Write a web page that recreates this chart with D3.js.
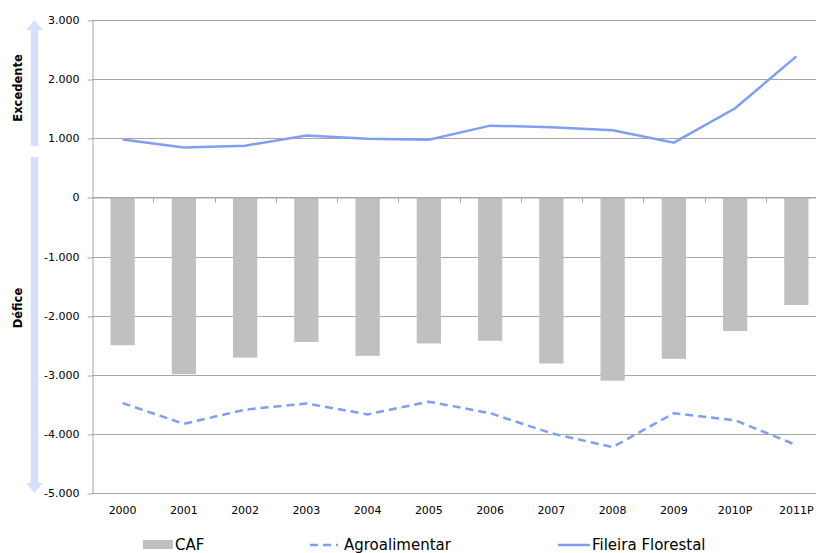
<!DOCTYPE html>
<html>
<head>
<meta charset="utf-8">
<script src="https://cdn.jsdelivr.net/npm/d3@7"></script>
<style>
  html, body { margin: 0; padding: 0; background: #fff; }
  svg { display: block; font-family: "DejaVu Sans", Verdana, sans-serif; }
</style>
</head>
<body>
<svg id="chart" width="816" height="553"></svg>
<script>
// Trade balance by year (values in thousand units)
const years = ["2000","2001","2002","2003","2004","2005","2006","2007","2008","2009","2010P","2011P"];
const caf = [-2500,-2990,-2710,-2445,-2680,-2470,-2425,-2810,-3100,-2730,-2260,-1820];
const agroalimentar = [-3480,-3830,-3590,-3485,-3670,-3455,-3650,-3990,-4225,-3650,-3770,-4190];
const fileiraFlorestal = [980,845,875,1047,990,975,1213,1186,1135,926,1508,2385];
const yTicks = [3000,2000,1000,0,-1000,-2000,-3000,-4000,-5000];

const svg = d3.select("#chart");
const plotLeft = 92, plotRight = 827, plotTop = 20, plotBottom = 493;

const x = d3.scaleBand().domain(years).range([plotLeft, plotRight]).paddingInner(37/61.25).paddingOuter(18.5/61.25);
const xb = d3.scaleBand().domain(years).range([plotLeft, plotRight]);
const y = d3.scaleLinear().domain([-5000, 3000]).range([plotBottom, plotTop]);

// Portuguese number style: dot as thousands separator, plain hyphen for negatives
const ptLocale = d3.formatLocale({ decimal: ",", thousands: ".", grouping: [3], currency: ["", ""], minus: "-" });
const fmt = ptLocale.format(",");
const lineColor = "#7f9ef5";
const gridColor = "#a6a6a6";
const fontFamily = "'DejaVu Sans', Verdana, sans-serif";

// horizontal gridlines
svg.append("g").selectAll("line").data(yTicks).join("line")
  .attr("x1", plotLeft).attr("x2", 816)
  .attr("y1", d => Math.round(y(d)) + 0.5).attr("y2", d => Math.round(y(d)) + 0.5)
  .attr("stroke", gridColor).attr("stroke-width", 1);

// value axis
const yAxis = svg.append("g").attr("transform", `translate(${plotLeft + 0.5},0)`)
  .call(d3.axisLeft(y).tickValues(yTicks).tickFormat(fmt).tickSize(5).tickSizeOuter(0));
yAxis.select(".domain").attr("stroke", gridColor);
yAxis.selectAll(".tick line").attr("stroke", gridColor)
  .attr("transform", function(d){ return `translate(0,${Math.round(y(d)) + 0.5 - y(d)})`; });
yAxis.selectAll(".tick text").attr("font-size", 11).attr("fill", "#000").attr("x", -13)
  .style("font-family", fontFamily);

// bars
svg.append("g").selectAll("rect").data(years).join("rect")
  .attr("x", (d) => x(d))
  .attr("width", x.bandwidth())
  .attr("y", (d, i) => y(Math.max(0, caf[i])))
  .attr("height", (d, i) => Math.abs(y(caf[i]) - y(0)))
  .attr("fill", "#c0c0c0");

// category axis along zero line with tick marks
const zeroY = Math.round(y(0)) + 0.5;
const xAxis = svg.append("g").attr("transform", `translate(0,${zeroY})`)
  .call(d3.axisBottom(xb).tickSize(0).tickFormat(""));
xAxis.select(".domain").attr("stroke", gridColor);
svg.append("g").selectAll("line").data(years.slice(1)).join("line")
  .attr("x1", d => Math.round(xb(d)) + 0.5).attr("x2", d => Math.round(xb(d)) + 0.5)
  .attr("y1", zeroY).attr("y2", zeroY + 5)
  .attr("stroke", gridColor);

// category labels at the bottom
svg.append("g").selectAll("text").data(years).join("text")
  .attr("x", d => xb(d) + xb.bandwidth() / 2)
  .attr("y", plotBottom + 21)
  .attr("text-anchor", "middle")
  .attr("font-size", 11)
  .text(d => d);

// lines
const line = d3.line().x((d, i) => xb(years[i]) + xb.bandwidth() / 2).y(d => y(d));
svg.append("path").datum(fileiraFlorestal).attr("d", line)
  .attr("fill", "none").attr("stroke", lineColor).attr("stroke-width", 2.5);
svg.append("path").datum(agroalimentar).attr("d", line)
  .attr("fill", "none").attr("stroke", lineColor).attr("stroke-width", 2.5)
  .attr("stroke-dasharray", "8,5");

// side arrows
const arrowColor = "#d5e0fc";
const ax = 34.5, shaft = 7.5, head = 17;
svg.append("path")
  .attr("d", `M${ax - shaft/2},${y(-5000) - 10} L${ax - head/2},${y(-5000) - 10} L${ax},${y(-5000)} L${ax + head/2},${y(-5000) - 10} L${ax + shaft/2},${y(-5000) - 10} L${ax + shaft/2},157 L${ax - shaft/2},157 Z`)
  .attr("fill", arrowColor);
svg.append("path")
  .attr("d", `M${ax - shaft/2},${y(3000) + 10} L${ax - head/2},${y(3000) + 10} L${ax},${y(3000)} L${ax + head/2},${y(3000) + 10} L${ax + shaft/2},${y(3000) + 10} L${ax + shaft/2},146 L${ax - shaft/2},146 Z`)
  .attr("fill", arrowColor);

svg.append("text").attr("transform", "translate(22,88) rotate(-90)")
  .attr("text-anchor", "middle").attr("font-size", 11.5).attr("font-weight", "bold").text("Excedente");
svg.append("text").attr("transform", "translate(22,308) rotate(-90)")
  .attr("text-anchor", "middle").attr("font-size", 11.5).attr("font-weight", "bold").text("Défice");

// legend
const lg = svg.append("g").attr("font-size", 15);
lg.append("rect").attr("x", 143).attr("y", 540).attr("width", 30).attr("height", 9).attr("fill", "#c0c0c0");
lg.append("text").attr("x", 175).attr("y", 550).text("CAF");
lg.append("line").attr("x1", 310).attr("x2", 338).attr("y1", 545).attr("y2", 545)
  .attr("stroke", lineColor).attr("stroke-width", 2.5).attr("stroke-dasharray", "8,5");
lg.append("text").attr("x", 344).attr("y", 550).text("Agroalimentar");
lg.append("line").attr("x1", 558).attr("x2", 590).attr("y1", 545).attr("y2", 545)
  .attr("stroke", lineColor).attr("stroke-width", 2.5);
lg.append("text").attr("x", 592).attr("y", 550).text("Fileira Florestal");
</script>
</body>
</html>
